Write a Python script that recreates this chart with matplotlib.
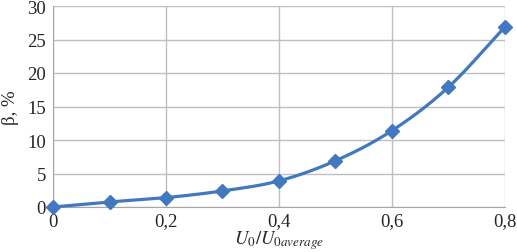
import numpy as np
import matplotlib
matplotlib.use("Agg")
import matplotlib.pyplot as plt
from matplotlib.ticker import FuncFormatter

# values
ratio = [0.0, 0.1, 0.2, 0.3, 0.4, 0.5, 0.6, 0.7, 0.8]
beta = [0.0, 0.75, 1.4, 2.4, 3.9, 6.9, 11.4, 17.9, 26.9]
x_ticks = [0.0, 0.2, 0.4, 0.6, 0.8]
y_ticks = [0, 5, 10, 15, 20, 25, 30]

BLUE = "#4278c0"
GRID = "#bfbfbf"

plt.rcParams["font.family"] = "Liberation Serif"
plt.rcParams["mathtext.fontset"] = "stix"


def smooth(xs, ys, n=30):
    # Catmull-Rom style smoothing, similar to spreadsheet "smoothed line"
    xs = np.asarray(xs, float)
    ys = np.asarray(ys, float)
    px = np.concatenate([[2 * xs[0] - xs[1]], xs, [2 * xs[-1] - xs[-2]]])
    py = np.concatenate([[2 * ys[0] - ys[1]], ys, [2 * ys[-1] - ys[-2]]])
    out_x, out_y = [], []
    t = np.linspace(0, 1, n)
    for i in range(1, len(px) - 2):
        for arr, out in ((px, out_x), (py, out_y)):
            p0, p1, p2, p3 = arr[i - 1], arr[i], arr[i + 1], arr[i + 2]
            seg = 0.5 * ((2 * p1) + (-p0 + p2) * t
                         + (2 * p0 - 5 * p1 + 4 * p2 - p3) * t ** 2
                         + (-p0 + 3 * p1 - 3 * p2 + p3) * t ** 3)
            out.extend(seg)
    return np.array(out_x), np.array(out_y)


fig = plt.figure(figsize=(5.17, 2.53), dpi=100)
ax = fig.add_axes([53 / 517, 45 / 253, 452 / 517, 201 / 253])

sx, sy = smooth(ratio, beta)
ax.plot(sx, sy, color=BLUE, lw=2.3, zorder=3, clip_on=False)
ax.plot(ratio, beta, ls="none", marker="D", ms=7, color=BLUE, zorder=4, clip_on=False)

ax.set_xlim(0, 0.8)
ax.set_ylim(0, 30)
ax.set_xticks(x_ticks)
ax.set_yticks(y_ticks)
ax.xaxis.set_major_formatter(FuncFormatter(lambda v, p: ("%g" % round(v, 1)).replace(".", ",")))

ax.grid(True, color=GRID, lw=1)
ax.set_axisbelow(True)
for side in ("top", "right"):
    ax.spines[side].set_visible(False)
for side in ("left", "bottom"):
    ax.spines[side].set_color("#a6a6a6")
ax.tick_params(axis="both", length=0, labelsize=13.5, colors="#262626")
ax.tick_params(axis="x", pad=4)
ax.tick_params(axis="y", pad=5)

ax.set_ylabel("β, %", fontsize=13.5, color="#262626", labelpad=6)
ax.set_xlabel(r"$U_0/U_{0average}$", fontsize=13.5, color="#262626")
ax.xaxis.set_label_coords(0.5, -0.105)

fig.savefig("out.png", dpi=100)
